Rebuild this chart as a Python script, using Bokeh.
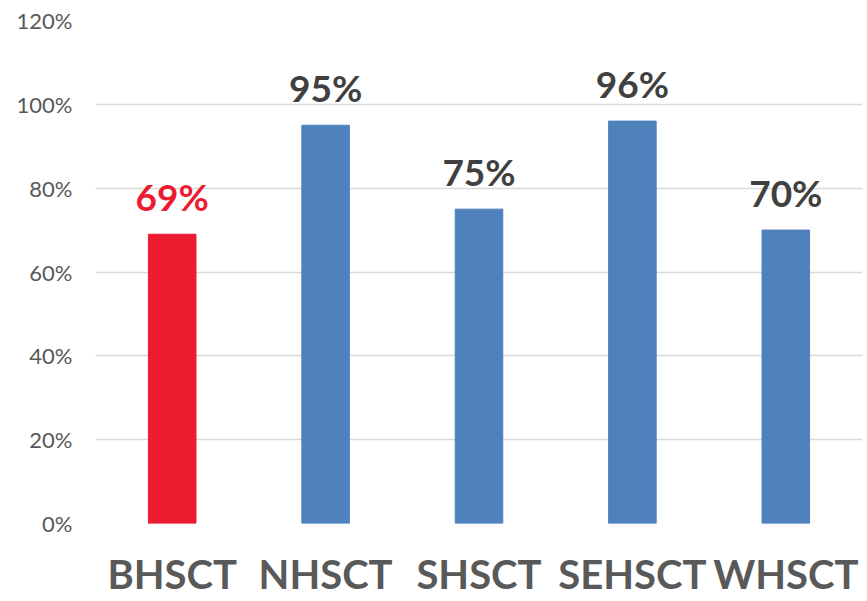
from bokeh.plotting import figure
from bokeh.models import ColumnDataSource, NumeralTickFormatter, FixedTicker, Range1d
from bokeh.core.properties import value
from bokeh.embed import file_html
from bokeh.resources import INLINE

categories = ["BHSCT", "NHSCT", "SHSCT", "SEHSCT", "WHSCT"]
values = [0.69, 0.95, 0.75, 0.96, 0.70]
labels = ["69%", "95%", "75%", "96%", "70%"]
bar_colors = ["#ED1B2F", "#4F81BD", "#4F81BD", "#4F81BD", "#4F81BD"]
label_colors = ["#ED1B2F", "#404040", "#404040", "#404040", "#404040"]
y_ticks = [0, 0.2, 0.4, 0.6, 0.8, 1.0, 1.2]

src = ColumnDataSource(dict(cat=categories, val=values, lab=labels,
                            bc=bar_colors, lc=label_colors))

p = figure(x_range=categories, width=864, height=600, output_backend="svg",
           toolbar_location=None, min_border_left=95, min_border_right=2,
           min_border_top=20, min_border_bottom=77)
p.y_range = Range1d(0, 1.2)
p.x_range.range_padding = 0

p.vbar(x="cat", top="val", width=0.31, color="bc", source=src)
p.text(x="cat", y="val", text="lab", text_color="lc", source=src,
       text_align="center", text_baseline="alphabetic", y_offset=-38,
       text_font=value("Lato"), text_font_style="bold", text_font_size="37px")

p.outline_line_color = None
p.background_fill_color = "white"
p.xgrid.grid_line_color = None
p.ygrid.grid_line_color = "#D9D9D9"
p.ygrid.grid_line_width = 1.5
p.yaxis.ticker = FixedTicker(ticks=y_ticks)
p.yaxis.formatter = NumeralTickFormatter(format="0%")
p.yaxis.axis_line_color = None
p.yaxis.major_tick_line_color = None
p.yaxis.minor_tick_line_color = None
p.yaxis.major_label_standoff = 17
p.yaxis.major_label_text_font = "Lato"
p.yaxis.major_label_text_font_size = "22px"
p.yaxis.major_label_text_color = "#595959"

p.xaxis.axis_line_color = None
p.xaxis.major_tick_line_color = None
p.xaxis.minor_tick_line_color = None
p.xaxis.major_label_standoff = 20
p.xaxis.major_label_text_line_height = 1.0
p.xaxis.major_label_text_font = "Lato"
p.xaxis.major_label_text_font_style = "bold"
p.xaxis.major_label_text_font_size = "40px"
p.xaxis.major_label_text_color = "#595959"

open("out.html", "w").write(file_html(p, INLINE))
